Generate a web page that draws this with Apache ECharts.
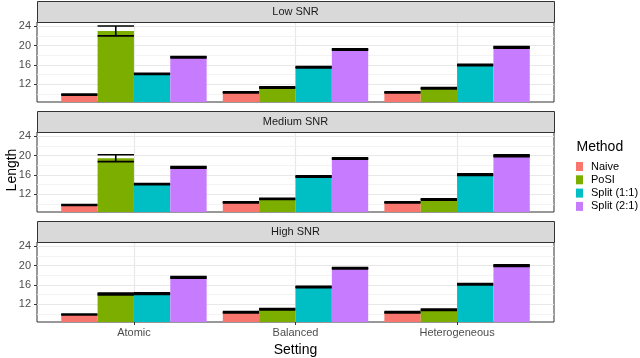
<!DOCTYPE html>
<html>
<head>
<meta charset="utf-8">
<script src="https://cdn.jsdelivr.net/npm/echarts@6/dist/echarts.min.js"></script>
<style>html,body{margin:0;padding:0;background:#fff}</style>
</head>
<body>
<div id="chart" style="width:640px;height:358px"></div>
<script>
var categories = ["Atomic", "Balanced", "Heterogeneous"];
var methods = ["Naive", "PoSI", "Split (1:1)", "Split (2:1)"];
var panels = ["Low SNR", "Medium SNR", "High SNR"];
var yTicks = [12, 16, 20, 24];
var yMinor = [10, 14, 18, 22];

// mean lengths, one array per method, for each panel
var lowNaive = [9.87, 10.34, 10.34];
var lowPoSI = [23.0, 11.34, 11.17];
var lowSplit11 = [14.17, 15.52, 16.0];
var lowSplit21 = [17.59, 19.18, 19.62];
var medNaive = [9.79, 10.34, 10.34];
var medPoSI = [19.45, 11.07, 10.93];
var medSplit11 = [14.1, 15.66, 16.04];
var medSplit21 = [17.55, 19.38, 19.93];
var highNaive = [9.89, 10.36, 10.36];
var highPoSI = [14.13, 10.96, 10.88];
var highSplit11 = [14.2, 15.58, 16.14];
var highSplit21 = [17.55, 19.45, 19.99];

// half width of the error bars
var lowErr = [[0.1, 0.1, 0.1], [1.02, 0.12, 0.15], [0.12, 0.15, 0.15], [0.15, 0.15, 0.17]];
var medErr = [[0.1, 0.1, 0.1], [0.72, 0.12, 0.13], [0.12, 0.15, 0.17], [0.17, 0.15, 0.2]];
var highErr = [[0.1, 0.12, 0.12], [0.2, 0.15, 0.15], [0.15, 0.15, 0.15], [0.17, 0.15, 0.17]];

var panelData = [
  [lowNaive, lowPoSI, lowSplit11, lowSplit21],
  [medNaive, medPoSI, medSplit11, medSplit21],
  [highNaive, highPoSI, highSplit11, highSplit21]
];
var panelErr = [lowErr, medErr, highErr];

var colors = ["#F8766D", "#7CAE00", "#00BFC4", "#C77CFF"];
var yMin = 8.35, yMax = 24.85;
var font = "Liberation Sans, Arial, sans-serif";

var myChart = echarts.init(document.getElementById("chart"));

function makeRender(k) {
  return function (params, api) {
    var x = api.value(0), v = api.value(1), e = api.value(2);
    var left = x - 0.45 + k * 0.225, right = left + 0.225;
    var tl = api.coord([left, v]);
    var br = api.coord([right, yMin]);
    var hi = api.coord([left, v + e]);
    var lo = api.coord([right, v - e]);
    var mid = api.coord([left + 0.1125, v])[0];
    var ls = { stroke: "#000", lineWidth: 1.6 };
    return {
      type: "group",
      children: [
        { type: "rect", shape: { x: tl[0], y: tl[1], width: br[0] - tl[0], height: br[1] - tl[1] }, style: { fill: api.visual("color") } },
        // fill between the caps when they sit close together
        { type: "rect", shape: { x: hi[0], y: hi[1], width: lo[0] - hi[0], height: e < 0.3 ? lo[1] - hi[1] : 0 }, style: { fill: "#000" } },
        { type: "line", shape: { x1: hi[0], y1: hi[1], x2: lo[0], y2: hi[1] }, style: ls },
        { type: "line", shape: { x1: hi[0], y1: lo[1], x2: lo[0], y2: lo[1] }, style: ls },
        { type: "line", shape: { x1: mid, y1: hi[1], x2: mid, y2: lo[1] }, style: ls }
      ]
    };
  };
}

var grids = [], xAxes = [], yAxes = [], series = [], graphics = [];
panels.forEach(function (name, i) {
  var top = 22 + 110 * i;
  grids.push({ left: 37, width: 517, top: top, height: 80, show: true, backgroundColor: "#fff", borderColor: "#333", borderWidth: 1 });
  var bottom = i === panels.length - 1;
  xAxes.push({
    type: "value", gridIndex: i, min: 0.4, max: 3.6,
    splitLine: { show: false }, axisLine: { show: false },
    axisTick: { show: bottom, customValues: [1, 2, 3], length: 3, lineStyle: { color: "#333" } },
    axisLabel: {
      show: bottom, customValues: [1, 2, 3], margin: 5, color: "#4d4d4d", fontSize: 11, fontFamily: font,
      formatter: function (v) { return categories[Math.round(v) - 1]; }
    }
  });
  yAxes.push({
    type: "value", gridIndex: i, min: yMin, max: yMax,
    splitLine: { show: false }, axisLine: { show: false },
    axisTick: { show: true, customValues: yTicks, length: 3, lineStyle: { color: "#333" } },
    axisLabel: { customValues: yTicks, margin: 6, color: "#4d4d4d", fontSize: 11, fontFamily: font }
  });
  // grid lines
  var ml = [];
  [1, 2, 3].forEach(function (v) { ml.push({ xAxis: v, lineStyle: { color: "#e8e8e8", width: 1.2, type: "solid" } }); });
  yTicks.forEach(function (v) { ml.push({ yAxis: v, lineStyle: { color: "#e8e8e8", width: 1.2, type: "solid" } }); });
  yMinor.forEach(function (v) { ml.push({ yAxis: v, lineStyle: { color: "#f0f0f0", width: 0.8, type: "solid" } }); });
  series.push({
    type: "line", xAxisIndex: i, yAxisIndex: i, data: [], silent: true, z: 1,
    markLine: { z: 1, silent: true, symbol: "none", label: { show: false }, animation: false, data: ml }
  });
  methods.forEach(function (m, k) {
    series.push({
      type: "custom", name: m, xAxisIndex: i, yAxisIndex: i, z: 3, clip: true,
      itemStyle: { color: colors[k] },
      encode: { x: 0, y: 1 },
      renderItem: makeRender(k),
      data: panelData[i][k].map(function (v, j) { return [j + 1, v, panelErr[i][k][j]]; })
    });
  });
  // strip
  graphics.push({
    type: "rect", left: 37, top: 1 + 110 * i, z: 5,
    shape: { width: 517, height: 21 },
    style: { fill: "#d9d9d9", stroke: "#333", lineWidth: 1 }
  });
  graphics.push({
    type: "text", x: 295.5, y: 11.5 + 110 * i, z: 6,
    style: { text: name, fill: "#1a1a1a", font: "11px " + font, align: "center", verticalAlign: "middle" }
  });
});

graphics.push({
  type: "text", x: 295.5, y: 350, style: { text: "Setting", fill: "#000", font: "14px " + font, align: "center", verticalAlign: "middle" }
});
graphics.push({
  type: "text", x: 12, y: 170, rotation: Math.PI / 2,
  style: { text: "Length", fill: "#000", font: "14px " + font, align: "center", verticalAlign: "middle" }
});
graphics.push({
  type: "text", x: 576.5, y: 147, style: { text: "Method", fill: "#000", font: "14px " + font, align: "left", verticalAlign: "middle" }
});

myChart.setOption({
  animation: false,
  backgroundColor: "#fff",
  grid: grids,
  xAxis: xAxes,
  yAxis: yAxes,
  legend: {
    data: methods, orient: "vertical", left: 576, top: 161, padding: 0,
    icon: "rect", itemWidth: 7, itemHeight: 9, itemGap: 2.3,
    textStyle: { fontSize: 11, fontFamily: font, color: "#000", lineHeight: 9, padding: [0, 0, 0, 3] }
  },
  graphic: graphics,
  series: series
});
</script>
</body>
</html>
